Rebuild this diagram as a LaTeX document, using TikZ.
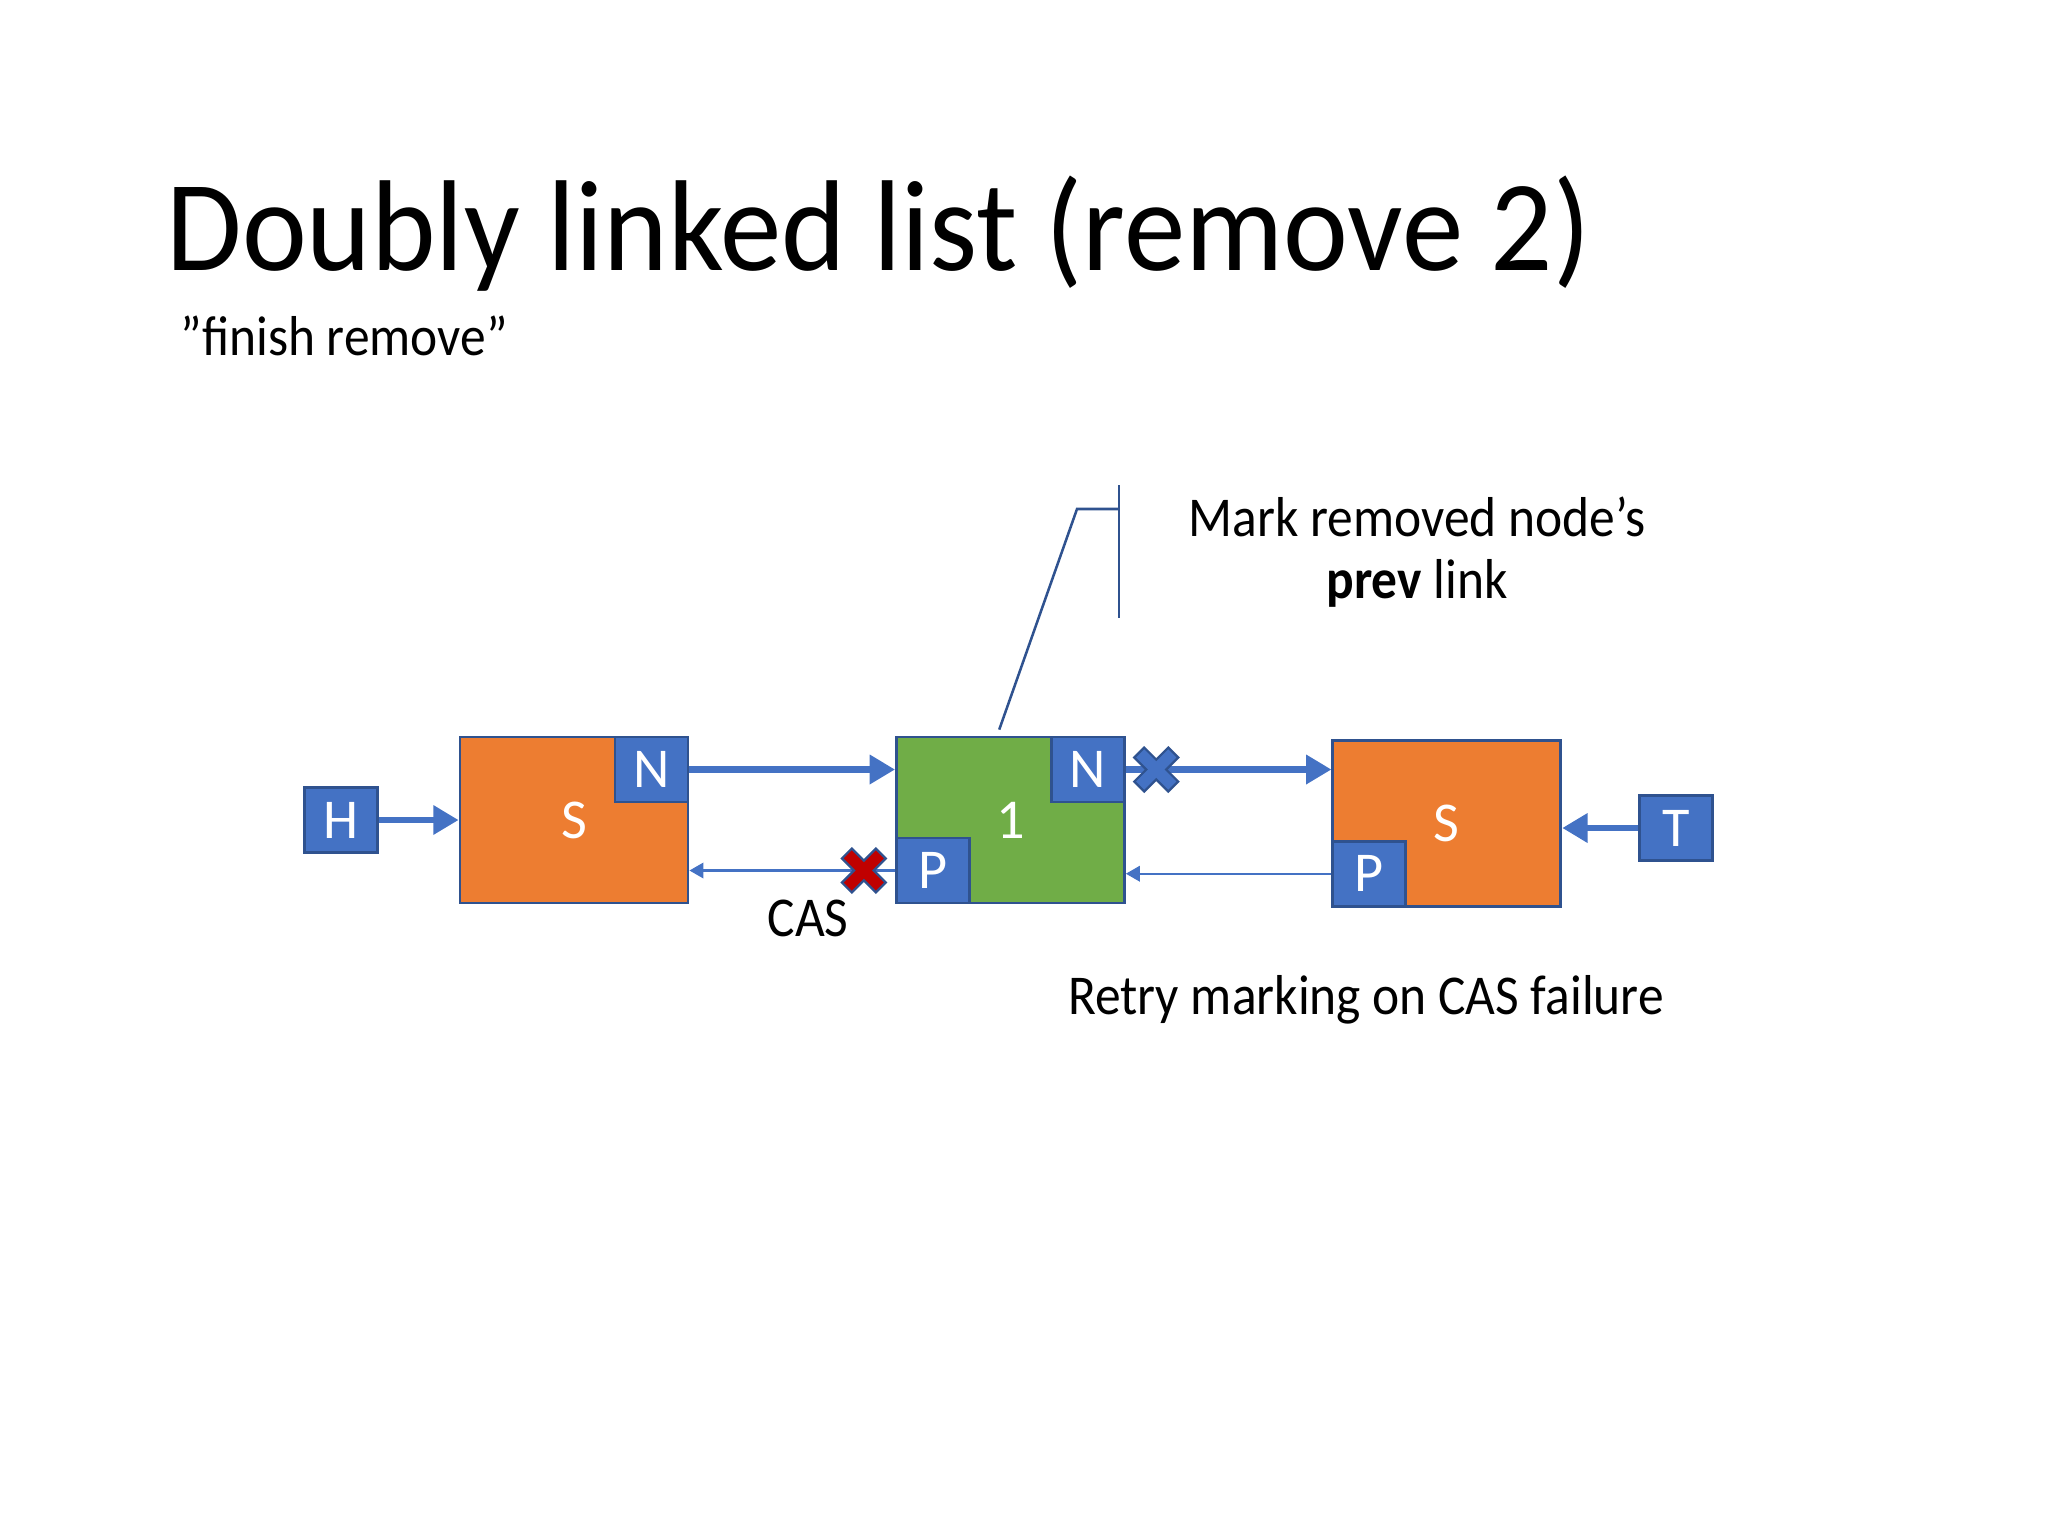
\documentclass[tikz,border=0pt]{standalone}
\usepackage{fontspec}
\usepackage{graphicx}
\setmainfont{Carlito}
\usetikzlibrary{positioning,arrows.meta}
\definecolor{boxorange}{HTML}{ED7D31}
\definecolor{boxgreen}{HTML}{70AD47}
\definecolor{ptrblue}{HTML}{4472C4}
\definecolor{edgeblue}{HTML}{2F528F}
\definecolor{crossred}{HTML}{C00000}
\newcommand{\narrow}[1]{\scalebox{0.915}[1]{#1}}
\tikzset{
  listnode/.style={draw=edgeblue, line width=1pt, minimum width=2.85cm, minimum height=2.075cm, inner sep=0pt, text=white, font=\fontsize{20}{24}\selectfont},
  ptrbox/.style={draw=edgeblue, fill=ptrblue, line width=1pt, minimum width=0.9125cm, minimum height=0.8125cm, inner sep=0pt, text=white, font=\fontsize{20}{24}\selectfont},
  link/.style={ptrblue, line width=2.2pt, -{Triangle[length=9pt,width=10pt]}},
  backlink/.style={ptrblue, line width=0.8pt, -{Triangle[length=5pt,width=5.5pt]}},
  callout/.style={edgeblue, line width=0.9pt},
  label/.style={font=\fontsize{20}{22}\selectfont, inner sep=0pt},
  xmark/.pic={
    \path[draw=edgeblue, line width=0.8pt, pic actions, rotate=45]
      (-7,-24) -- (7,-24) -- (7,-7) -- (24,-7) -- (24,7) -- (7,7) -- (7,24)
      -- (-7,24) -- (-7,7) -- (-24,7) -- (-24,-7) -- (-7,-7) -- cycle;
  }
}

\begin{document}
\begin{tikzpicture}[x=0.125mm,y=-0.125mm]
  \useasboundingbox (0,0) rectangle (2048,1536);

  \node[anchor=base west, inner sep=0pt, font=\fontsize{46}{50}\selectfont] (title) at (166,270) {\scalebox{0.95}[1]{Doubly linked list (remove 2)}};
  \node[anchor=base west, label] (subtitle) at (180,355) {\narrow{”finish remove”}};

  % the list
  \node[listnode, fill=boxorange] (s1) at (574,820) {S};
  \node[ptrbox, left=1cm of s1] (h) {H};
  \node[listnode, fill=boxgreen, right=2.57cm of s1] (one) {1};
  \node[listnode, fill=boxorange, right=2.57cm of one, yshift=-0.04cm] (s3) {S};
  \node[ptrbox, right=0.95cm of s3, yshift=-0.06cm] (t) {T};

  % next / prev fields
  \node[ptrbox, anchor=north east] (s1n) at (s1.north east) {N};
  \node[ptrbox, anchor=north east] (onen) at (one.north east) {N};
  \node[ptrbox, anchor=south west] (onep) at (one.south west) {P};
  \node[ptrbox, anchor=south west] (s3p) at (s3.south west) {P};

  \draw[link] (h) -- (s1);
  \draw[link] (s1n.east) -- (one.west |- s1n.east);
  \draw[link] (onen.east) -- (s3.west |- onen.east);
  \draw[link] (t) -- (s3.east |- t);
  \draw[backlink] (s3p.west) -- (one.east |- s3p.west);
  \draw[backlink] (onep.west) -- (s1.east |- onep.west);

  \pic[fill=crossred] at ([xshift=-0.39cm]onep.west) {xmark};
  \pic[fill=ptrblue] at ([xshift=0.38cm]onen.east) {xmark};

  \node[label] (cas) at (808,918) {\narrow{CAS}};
  \node[label] (retry) at (1366,1000) {\narrow{Retry marking on CAS failure}};
  \node[label] (note) at (1417,555) {\narrow{\begin{tabular}{@{}c@{}}Mark removed node’s\\\textbf{prev} link\end{tabular}}};

  % callout to node 1
  \coordinate (bartop) at (1119,485);
  \coordinate (barbot) at (1119,618);
  \coordinate (elbow) at (1077,509);
  \draw[callout] (bartop) -- (barbot);
  \draw[callout] (elbow -| bartop) -- (elbow) -- ([xshift=-0.14cm,yshift=0.075cm]one.north);
\end{tikzpicture}
\end{document}
